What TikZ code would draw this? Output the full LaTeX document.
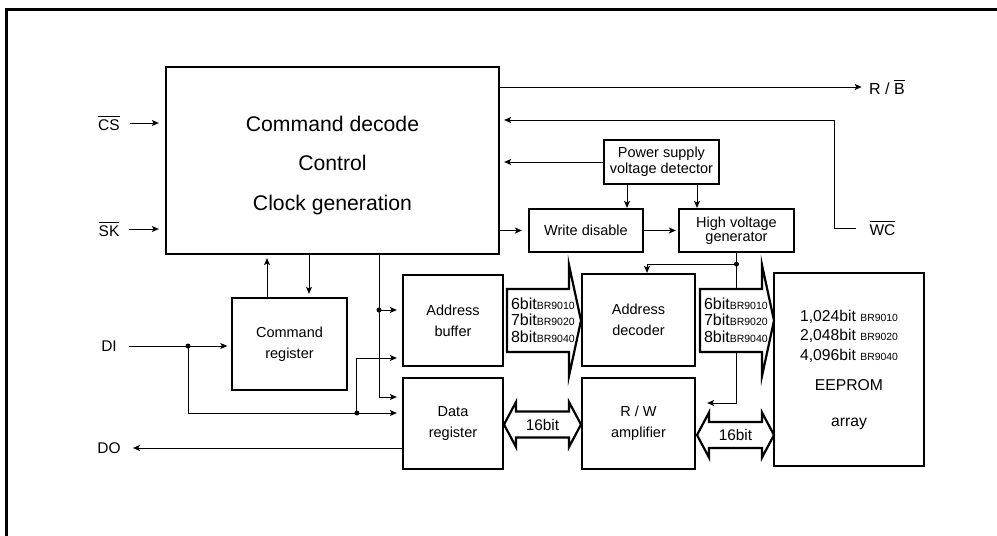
\documentclass[tikz,border=0pt]{standalone}
\usepackage{fontspec}
\setmainfont{Liberation Sans}
\usetikzlibrary{arrows.meta,calc}

\begin{document}
\begin{tikzpicture}[x=0.5pt, y=-0.5pt, line width=0.5pt, >={Stealth[length=3.5pt,width=3pt,inset=0.8pt]}]

\tikzstyle{blk}=[draw, line width=1.1pt, inner sep=0pt, align=center, font=\fontsize{7.25}{10.5}\selectfont]
\tikzstyle{sig}=[inner sep=0pt, font=\fontsize{7.75}{9}\selectfont]
\tikzstyle{bus}=[draw, line width=1.1pt, fill=white]
\tikzstyle{bustxt}=[inner sep=0pt, align=left, font=\fontsize{8}{8.25}\selectfont]
\tikzstyle{dot}=[fill, circle, inner sep=0pt, minimum size=2.5pt]

\useasboundingbox (0,0) rectangle (997,536);
\draw[line width=1.5pt] (6,536) -- (6,9) -- (997,9);

% blocks
\node[blk, minimum width=166.5pt, minimum height=93.5pt] (main) at (332.5,160.5) {};
\node[inner sep=0pt, align=center, font=\fontsize{10.6}{19.75}\selectfont] (maintxt) at (332.5,165.5) {Command decode\\Control\\Clock generation};
\node[blk, minimum width=57.5pt, minimum height=22pt, font=\fontsize{7.25}{6.35}\selectfont] (pwr) at (661.5,162) {Power supply\\voltage detector};
\node[blk, minimum width=57pt, minimum height=21.5pt] (wdis) at (586,230.5) {Write disable};
\node[blk, minimum width=57.5pt, minimum height=21.5pt, font=\fontsize{7.25}{7}\selectfont] (hvg) at (736.5,230.5) {High voltage\\generator};
\node[blk, minimum width=57.5pt, minimum height=46pt] (cmdreg) at (289.5,344) {Command\\register};
\node[blk, minimum width=50pt, minimum height=45.5pt] (abuf) at (453,320.5) {Address\\buffer};
\node[blk, minimum width=50pt, minimum height=45.5pt] (dreg) at (453,423.5) {Data\\register};
\node[blk, minimum width=56.5pt, minimum height=46pt] (adec) at (638.5,320) {Address\\decoder};
\node[blk, minimum width=56.5pt, minimum height=45.5pt] (rwamp) at (638.5,423.5) {R / W\\amplifier};
\node[blk, minimum width=75pt, minimum height=96.5pt] (eeprom) at (849,369.5) {};
\node[inner sep=0pt, align=center, font=\fontsize{7.85}{9.75}\selectfont] (eetxt) at (849,369.5) {1,024bit {\fontsize{5.2}{6}\selectfont BR9010}\\2,048bit {\fontsize{5.2}{6}\selectfont BR9020}\\4,096bit {\fontsize{5.2}{6}\selectfont BR9040}\\[5.25pt]EEPROM\\[8.25pt]array};

% pins
\node[sig] (cs) at (109,123) {$\overline{\mbox{CS}}$};
\node[sig] (sk) at (109,229) {$\overline{\mbox{SK}}$};
\node[sig] (di) at (109,346) {DI};
\node[sig] (dout) at (109,448) {DO};
\node[sig, font=\fontsize{8}{9}\selectfont] (rb) at (887,87) {R / $\overline{\mbox{B}}$};
\node[sig] (wc) at (882.5,228) {$\overline{\mbox{WC}}$};

\draw[->, shorten <=4.75pt, shorten >=3pt] (cs.east) -- (cs.east -| main.west);
\draw[->, shorten <=4.75pt, shorten >=3pt] (sk.east) -- (sk.east -| main.west);
\draw[->, shorten >=3.5pt] (main.east |- rb) -- (rb.west);
\coordinate (wcb) at (834,120);
\draw[->, shorten <=6.3pt, shorten >=2pt] (wc.west) -| (wcb) -- (wcb -| main.east);
\draw[->, shorten >=2pt] (pwr.west) -- (pwr.west -| main.east);
\draw[->] ($(pwr.south)+(-34.5,0)$) -- ($(wdis.north)+(41,0)$);
\draw[->] ($(pwr.south)+(35.5,0)$) -- ($(hvg.north)+(-39.5,0)$);
\draw[->, shorten >=3pt] (main.east |- wdis.west) -- (wdis.west);
\draw[->, shorten >=1pt] (wdis) -- (hvg);

\coordinate (cup) at ($(cmdreg.north)+(-22.5,0)$);
\coordinate (cdn) at ($(cmdreg.north)+(19.5,0)$);
\draw[->, shorten >=1.5pt] (cup) -- (cup |- main.south);
\draw[->, shorten >=1.5pt] (cdn |- main.south) -- (cdn);

\coordinate (bus) at ($(main.south)+(46.5,0)$);
\coordinate (ain) at ($(abuf.west)+(0,-10.5)$);
\coordinate (din) at ($(dreg.west)+(0,-26.5)$);
\draw[->, shorten >=2.5pt] (bus) |- (din);
\draw[->, shorten >=2.5pt] (bus |- ain) -- (ain);
\node[dot] (ajn) at (bus |- ain) {};

\coordinate (dij) at ($(di)+(79,0)$);
\coordinate (din2) at ($(dreg.west)+(0,-10.5)$);
\coordinate (dj) at ($(din2)+(-45,0)$);
\coordinate (ain2) at ($(abuf.west)+(0,37.5)$);
\draw[->, shorten <=6.1pt, shorten >=1.8pt] (di.east) -- (di.east -| cmdreg.west);
\draw[->, shorten >=2.5pt] (dij) |- (din2);
\draw[->, shorten >=2.5pt] (dj) |- (ain2);
\node[dot] (dijn) at (dij) {};
\node[dot] (djn) at (dj) {};
\draw[->, shorten >=5.9pt] (dreg.west |- dout) -- (dout.east);

\coordinate (hvj) at ($(hvg.south)+(0,11)$);
\coordinate (rwin) at ($(rwamp.east)+(11,-20.5)$);
\draw[->] (hvj) -| ($(adec.north)+(8.5,0)$);
\draw[->] (hvg.south) -- (hvj) |- (rwin);
\node[dot] (hvjn) at (hvj) {};

% buses
\foreach \x in {507,700}{
  \draw[bus] (\x,289) -- ++(62,0) -- ++(0,-24) -- ++(12,55.5) -- ++(-12,55.5) -- ++(0,-24) -- ++(-62,0) -- cycle;
  \node[bustxt, anchor=west] (ab\x) at (\x+3.5,320) {6bit{\fontsize{5.25}{6}\selectfont BR9010}\\7bit{\fontsize{5.25}{6}\selectfont BR9020}\\8bit{\fontsize{5.25}{6}\selectfont BR9040}};
}
\foreach \x/\y in {504/424.5, 697/435}{
  \draw[bus] (\x,\y) -- ++(12,-22.5) -- ++(0,9.5) -- ++(53,0) -- ++(0,-9.5) -- ++(12,22.5) -- ++(-12,22.5) -- ++(0,-9.5) -- ++(-53,0) -- ++(0,9.5) -- cycle;
  \node[inner sep=0pt, font=\fontsize{7.7}{9}\selectfont] (db\x) at (\x+38.5,\y) {16bit};
}

\end{tikzpicture}
\end{document}
